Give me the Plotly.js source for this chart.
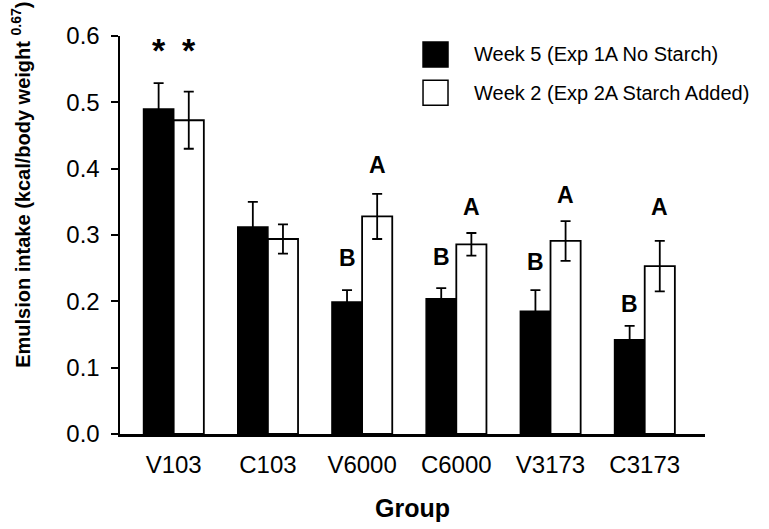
<!DOCTYPE html>
<html>
<head>
<meta charset="utf-8">
<script src="https://cdn.plot.ly/plotly-3.0.1.min.js"></script>
<style>
	html, body { margin: 0; padding: 0; background: #fff; }
	#chart { width: 769px; height: 529px; }
</style>
</head>
<body>
<div id="chart"></div>
<script>
var groups = ['V103', 'C103', 'V6000', 'C6000', 'V3173', 'C3173'];

var week5Name = 'Week 5 (Exp 1A No Starch)';
var week5Vals = [0.490, 0.312, 0.199, 0.204, 0.185, 0.142];
var week5Err = [0.039, 0.038, 0.018, 0.016, 0.032, 0.021];

var week2Name = 'Week 2 (Exp 2A Starch Added)';
var week2Vals = [0.473, 0.294, 0.328, 0.286, 0.291, 0.253];
var week2Err = [0.043, 0.022, 0.034, 0.017, 0.030, 0.038];

// significance marks: group index, series (0 = week 5, 1 = week 2), label, y
var markGroup = [0, 0, 2, 2, 3, 3, 4, 4, 5, 5];
var markSeries = [0, 1, 0, 1, 0, 1, 0, 1, 0, 1];
var markText = ['*', '*', 'B', 'A', 'B', 'A', 'B', 'A', 'B', 'A'];
var markY = [0.585, 0.585, 0.265, 0.406, 0.267, 0.342, 0.259, 0.360, 0.196, 0.342];

var fontFam = 'Arial, "Liberation Sans", sans-serif';

var data = [
	{
		type: 'bar',
		name: week5Name,
		x: groups,
		y: week5Vals,
		marker: {color: '#000000', line: {color: '#000000', width: 1.5}},
		error_y: {type: 'data', array: week5Err, visible: true, color: '#000000', thickness: 1.8, width: 5}
	},
	{
		type: 'bar',
		name: week2Name,
		x: groups,
		y: week2Vals,
		marker: {color: '#ffffff', line: {color: '#000000', width: 1.8}},
		error_y: {type: 'data', array: week2Err, visible: true, color: '#000000', thickness: 1.8, width: 5}
	}
];

var annotations = [];
for (var i = 0; i < markText.length; i++) {
	var star = markText[i] === '*';
	annotations.push({
		x: groups[markGroup[i]],
		y: markY[i],
		xref: 'x',
		yref: 'y',
		text: '<b>' + markText[i] + '</b>',
		showarrow: false,
		xshift: markSeries[i] ? 15 : -15,
		yshift: star ? -4 : 0,
		font: {family: fontFam, size: star ? 34 : 23, color: '#000'}
	});
}

annotations.push({
	xref: 'paper',
	yref: 'paper',
	x: -0.17,
	y: 0.625,
	xanchor: 'center',
	yanchor: 'middle',
	textangle: -90,
	showarrow: false,
	text: '<b>Emulsion intake (kcal/body weight <sup>0.67</sup>)</b>',
	font: {family: fontFam, size: 20, color: '#000'}
});

// legend drawn by hand: the original uses big square swatches
var legendNames = [week5Name, week2Name];
var legendFill = ['#000000', '#ffffff'];
var legendTop = [0.985, 0.889];
var shapes = [];
for (var k = 0; k < legendNames.length; k++) {
	shapes.push({
		type: 'rect',
		xref: 'paper',
		yref: 'paper',
		x0: 0.518,
		x1: 0.5607,
		y0: legendTop[k] - 0.063,
		y1: legendTop[k],
		fillcolor: legendFill[k],
		line: {color: '#000', width: 1.5}
	});
	annotations.push({
		xref: 'paper',
		yref: 'paper',
		x: 0.601,
		y: legendTop[k] - 0.031,
		xanchor: 'left',
		yanchor: 'middle',
		showarrow: false,
		text: legendNames[k],
		font: {family: fontFam, size: 20, color: '#000'}
	});
}

var layout = {
	width: 769,
	height: 529,
	margin: {l: 120, r: 64, t: 36, b: 95},
	paper_bgcolor: '#ffffff',
	plot_bgcolor: '#ffffff',
	font: {family: fontFam, color: '#000'},
	barmode: 'group',
	bargap: 0.36,
	bargroupgap: 0,
	showlegend: false,
	xaxis: {
		type: 'category',
		range: [-0.57, 5.64],
		showline: true,
		linecolor: '#000',
		linewidth: 2.5,
		ticks: '',
		showgrid: false,
		zeroline: false,
		ticklabelstandoff: 8,
		tickfont: {family: fontFam, size: 24, color: '#000'},
		title: {text: '<b>Group</b>', font: {family: fontFam, size: 25, color: '#000'}, standoff: 22}
	},
	yaxis: {
		range: [0, 0.6],
		tickvals: [0, 0.1, 0.2, 0.3, 0.4, 0.5, 0.6],
		ticktext: ['0.0', '0.1', '0.2', '0.3', '0.4', '0.5', '0.6'],
		showline: true,
		linecolor: '#000',
		linewidth: 2.5,
		ticks: 'outside',
		ticklen: 7,
		tickwidth: 2,
		tickcolor: '#000',
		showgrid: false,
		zeroline: false,
		ticklabelstandoff: 6,
		tickfont: {family: fontFam, size: 24, color: '#000'}
	},
	shapes: shapes,
	annotations: annotations
};

Plotly.newPlot('chart', data, layout, {displayModeBar: false, staticPlot: true});
</script>
</body>
</html>
